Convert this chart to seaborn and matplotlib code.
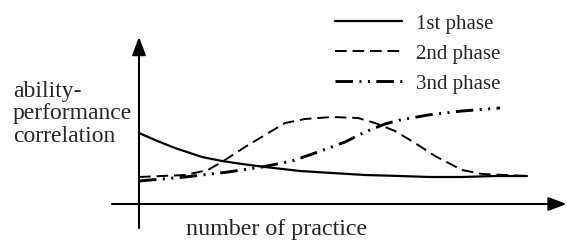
import numpy as np
import matplotlib
matplotlib.use("Agg")
import matplotlib.pyplot as plt
import seaborn as sns

# =========================
# DATA
# =========================
phase1_x = [0, 0.4, 0.9, 1.575, 2.075, 2.575, 3.15, 4.025, 4.825, 5.65, 6.525, 7.275, 8.075, 8.9, 9.7]
phase1_y = [0.71, 0.64, 0.56, 0.47, 0.43, 0.40, 0.37, 0.33, 0.31, 0.29, 0.28, 0.27, 0.27, 0.28, 0.28]

phase2_x = [0, 1.15, 1.725, 2.15, 2.65, 3.15, 3.65, 4.15, 4.825, 5.475, 5.9, 6.4, 6.9, 7.4, 8.075, 8.575, 9.15, 9.7]
phase2_y = [0.27, 0.29, 0.34, 0.44, 0.57, 0.69, 0.81, 0.85, 0.87, 0.86, 0.81, 0.73, 0.61, 0.48, 0.34, 0.30, 0.29, 0.28]

phase3_x = [0, 1.15, 2.225, 3.075, 3.825, 4.475, 5.15, 5.65, 6.15, 6.525, 7.225, 8.075, 9.025]
phase3_y = [0.23, 0.27, 0.32, 0.37, 0.43, 0.52, 0.62, 0.72, 0.80, 0.84, 0.89, 0.93, 0.96]

labels = ["1st phase", "2nd phase", "3nd phase"]
y_label = "ability-\nperformance\ncorrelation"
x_label = "number of practice"

# =========================
# FIGURE
# =========================
sns.set_style("white")
plt.rcParams['font.family'] = ['Liberation Serif', 'DejaVu Serif']

W, H = 567, 240
fig = plt.figure(figsize=(W / 100, H / 100), dpi=100)
ax = fig.add_axes([0, 0, 1, 1])
ax.set_xlim(-139 / 40, 428 / 40)
ax.set_ylim(-0.36, 2.04)
ax.axis("off")

sns.lineplot(x=phase1_x, y=phase1_y, ax=ax, color="black", lw=1.6,
             linestyle="-", label=labels[0], legend=False)
sns.lineplot(x=phase2_x, y=phase2_y, ax=ax, color="black", lw=1.4,
             linestyle=(0, (6, 3)), label=labels[1], legend=False)
sns.lineplot(x=phase3_x, y=phase3_y, ax=ax, color="black", lw=2.1,
             linestyle=(0, (6, 2.2, 0.7, 2.2, 0.7, 2.2)), label=labels[2], legend=False)

# axes with arrows
arrow = dict(arrowstyle="-|>,head_length=1.1,head_width=0.42", color="black",
             lw=1.5, mutation_scale=10, shrinkA=0, shrinkB=0)
ax.annotate("", xy=(10.69, 0), xytext=(-0.675, 0), arrowprops=arrow,
            annotation_clip=False)
ax.annotate("", xy=(0, 1.67), xytext=(0, -0.24), arrowprops=arrow,
            annotation_clip=False)

# texts
fig.text(13 / W, 1 - 114 / H, y_label, ha="left", va="center",
         fontsize=17, linespacing=1.12)
fig.text(277 / W, 1 - 230 / H, x_label, ha="center", va="center", fontsize=17.3)

fig.legend(loc="upper left", bbox_to_anchor=(335 / W, 1 - 14 / H),
           frameon=False, fontsize=15, handlelength=3.2, handletextpad=0.7,
           labelspacing=0.5, borderpad=0, borderaxespad=0)

fig.savefig("out.png", dpi=100)
